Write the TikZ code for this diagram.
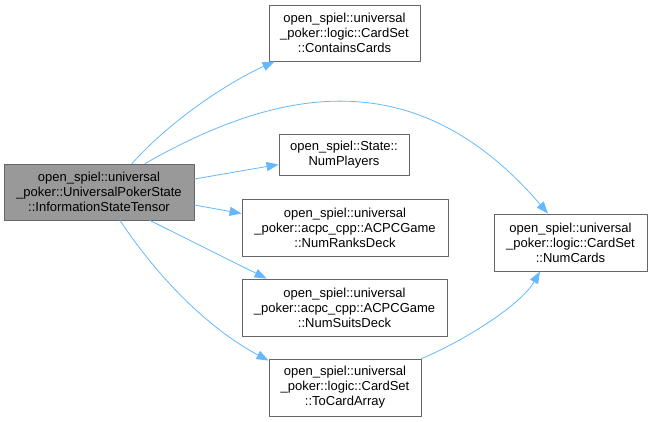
\documentclass[tikz,border=0pt]{standalone}
\usepackage{fontspec}
\setmainfont{Liberation Sans}
\usetikzlibrary{arrows.meta}
\begin{document}
\begin{tikzpicture}[x=1pt, y=-1pt, line cap=round, line join=round,
  fnbox/.style={draw=cgborder, line width=0.9pt, inner sep=0pt, align=center,
    font=\fontsize{13}{15}\selectfont},
  callarrow/.style={draw=cgedge, line width=0.8pt, -{Triangle[length=12pt,width=9pt]}}]
\definecolor{cgborder}{HTML}{666666}
\definecolor{cgmain}{HTML}{999999}
\definecolor{cgedge}{HTML}{63B8FF}
\useasboundingbox (0,0) rectangle (652,421);
% ---- caller ----
\node[fnbox, fill=cgmain, minimum width=190, minimum height=56] (main) at (99,192)
  {open\_spiel::universal\\\_poker::UniversalPokerState\\::InformationStateTensor};
% ---- callees ----
\node[fnbox, minimum width=151, minimum height=56] (contains) at (344.5,33)
  {open\_spiel::universal\\\_poker::logic::CardSet\\::ContainsCards};
\node[fnbox, minimum width=130, minimum height=41] (players) at (344,154.5)
  {open\_spiel::State::\\NumPlayers};
\node[fnbox, minimum width=206, minimum height=57] (ranks) at (345,227.5)
  {open\_spiel::universal\\\_poker::acpc\_cpp::ACPCGame\\::NumRanksDeck};
\node[fnbox, minimum width=205, minimum height=57] (suits) at (344.5,307.5)
  {open\_spiel::universal\\\_poker::acpc\_cpp::ACPCGame\\::NumSuitsDeck};
\node[fnbox, minimum width=152, minimum height=57] (toarray) at (345,387.5)
  {open\_spiel::universal\\\_poker::logic::CardSet\\::ToCardArray};
\node[fnbox, minimum width=153, minimum height=57] (numcards) at (570.5,242.5)
  {open\_spiel::universal\\\_poker::logic::CardSet\\::NumCards};
% ---- calls ----
\draw[callarrow] ([xshift=33pt]main.north) .. controls +(43,-48) and +(-40,18) .. ([xshift=6pt]contains.south west);
\draw[callarrow] ([xshift=46pt]main.north) .. controls +(132,-75) and +(-133,-155) .. ([xshift=-22.5pt]numcards.north);
\draw[callarrow] ([yshift=13pt]main.east) -- ([yshift=-10pt]players.west);
\draw[callarrow] ([yshift=-13pt]main.east) -- ([yshift=14pt]ranks.west);
\draw[callarrow] ([xshift=51pt]main.south) -- ([xshift=25pt]suits.north west);
\draw[callarrow] ([xshift=21pt]main.south) .. controls +(44,66) and +(-53,-28) .. ([yshift=-2pt]toarray.north west);
\draw[callarrow] (toarray.north east) .. controls +(37,-15) and +(-20,35) .. ([xshift=-30.5pt]numcards.south);
\end{tikzpicture}
\end{document}
